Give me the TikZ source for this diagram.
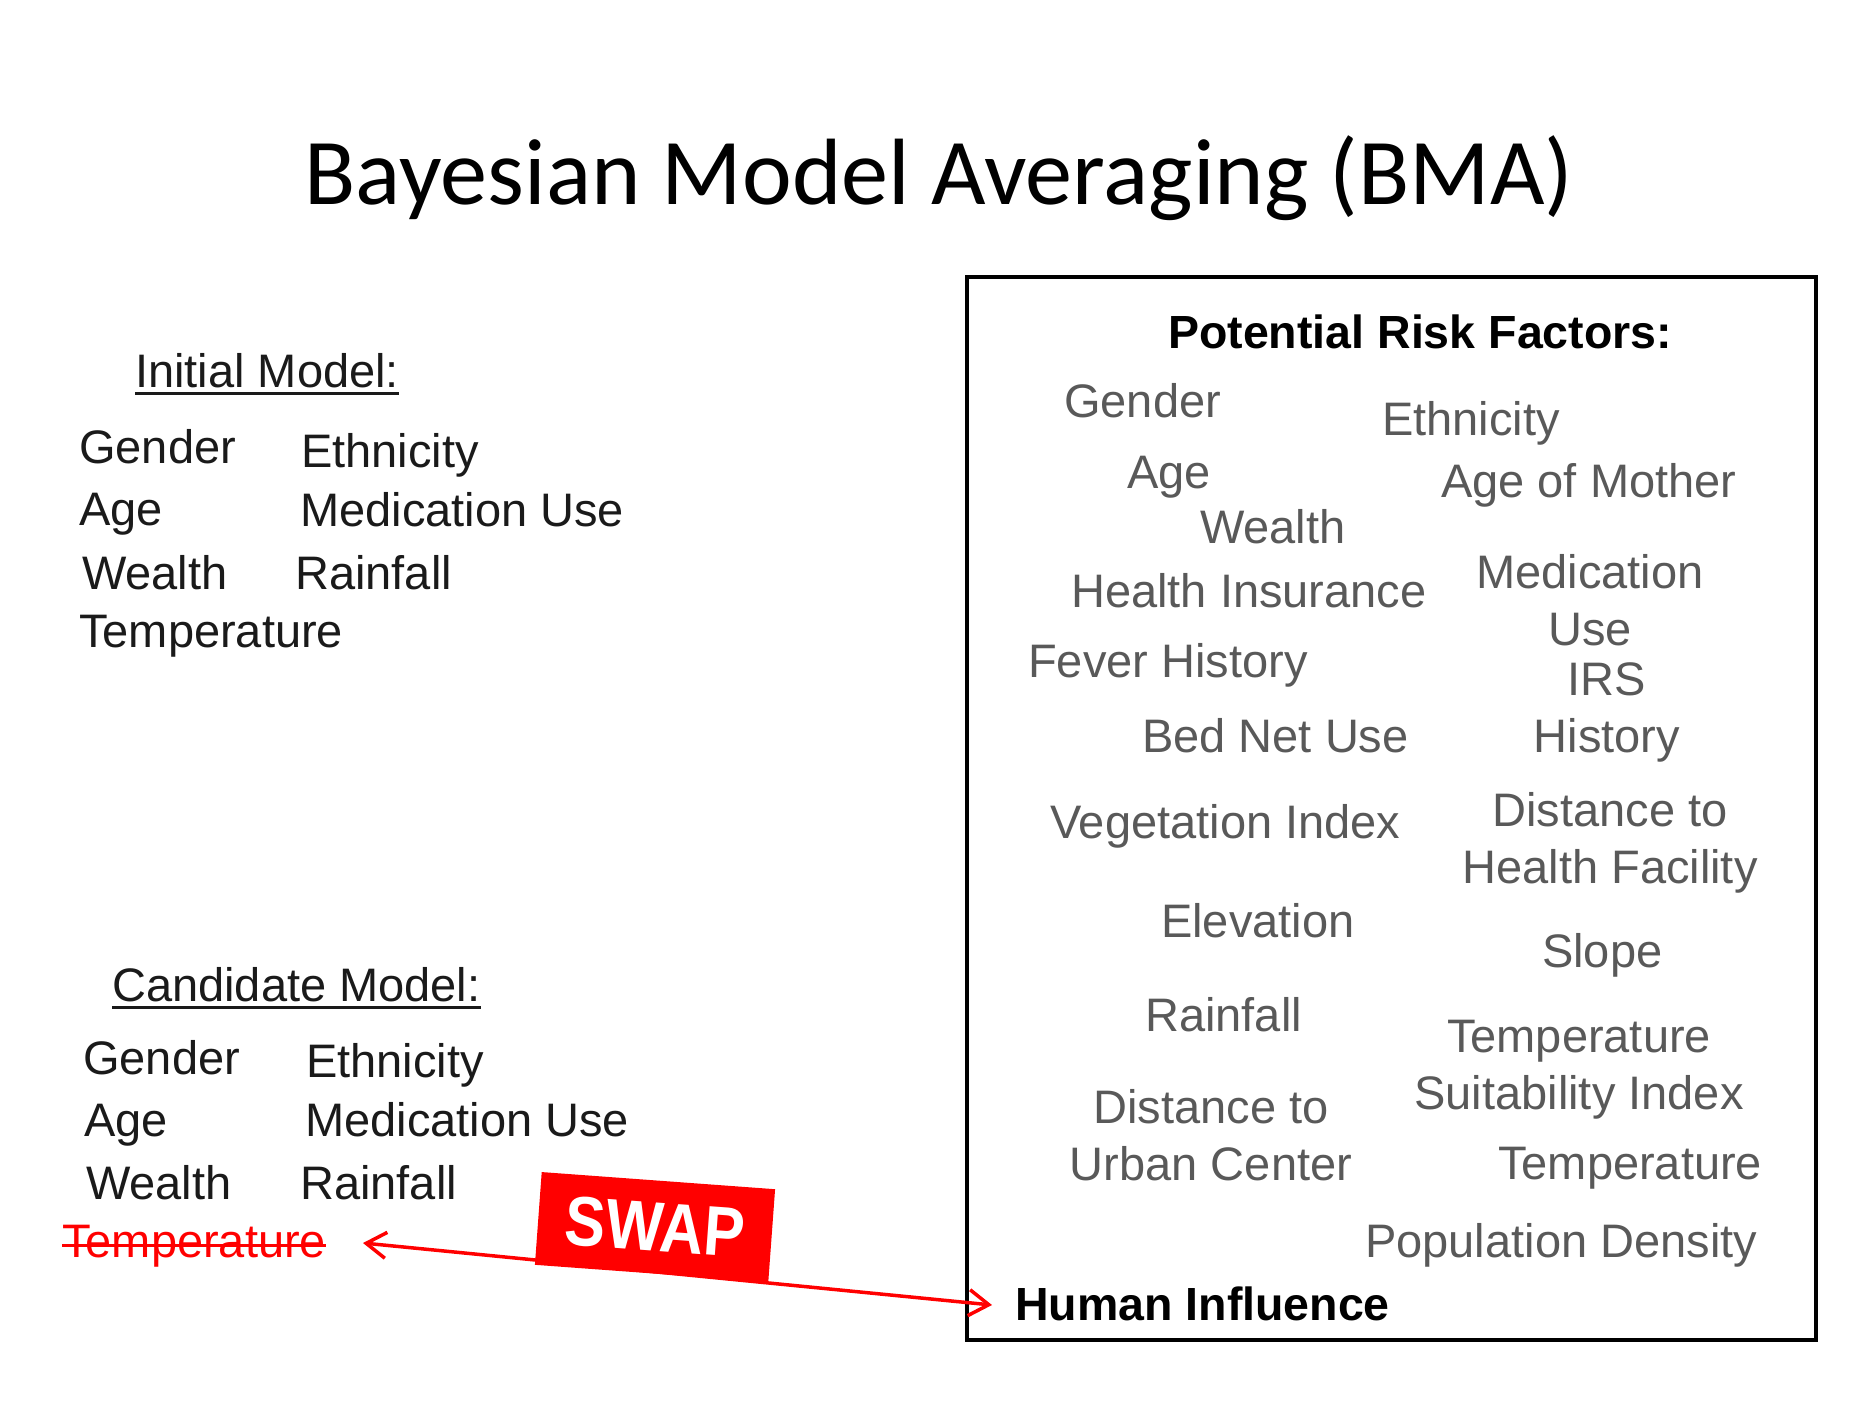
\documentclass[tikz,border=0pt]{standalone}
\usepackage{fontspec}
\setmainfont{Liberation Sans}
\newfontfamily\titlefont{Carlito}
\usetikzlibrary{arrows.meta}
\definecolor{txtdark}{HTML}{1A1A1A}
\definecolor{txtgray}{HTML}{595959}
\definecolor{swapred}{HTML}{FF0000}
\tikzset{
  lefttxt/.style={anchor=base west, inner sep=0pt, text=txtdark, font=\fontsize{47pt}{56.5pt}\selectfont},
  headtxt/.style={anchor=base west, inner sep=0pt, text=txtdark, font=\fontsize{47pt}{56.5pt}\selectfont},
  factor/.style={anchor=base west, inner sep=0pt, text=txtgray, font=\fontsize{47pt}{56.5pt}\selectfont},
  factorc/.style={anchor=base, inner sep=0pt, text=txtgray, align=center, font=\fontsize{47pt}{56.5pt}\selectfont},
  boldtxt/.style={anchor=base west, inner sep=0pt, text=black, font=\fontsize{46.5pt}{56.5pt}\selectfont\bfseries},
  uline/.style={line width=3pt, draw=txtdark},
  swaparrow/.style={draw=swapred, line width=3.5pt, {Straight Barb[length=20pt,width=26pt]}-{Straight Barb[length=20pt,width=26pt]}},
}
\begin{document}
\begin{tikzpicture}[x=1pt,y=-1pt]
\useasboundingbox[fill=white] (0,0) rectangle (1875,1406);

% title
\node[anchor=base, inner sep=0pt, font=\titlefont\fontsize{94.2pt}{100pt}\selectfont] (title) at (939,204) {Bayesian Model Averaging (BMA)};

% initial model
\node[headtxt] (init) at (135,387) {Initial Model:};
\draw[uline] ([yshift=-6pt]init.base west) -- ([yshift=-6pt]init.base east);
\node[lefttxt] (i1) at (79,463) {Gender};
\node[lefttxt] (i2) at (301,467) {Ethnicity};
\node[lefttxt] (i3) at (79,525) {Age};
\node[lefttxt] (i4) at (300,526) {Medication Use};
\node[lefttxt] (i5) at (82,589) {Wealth};
\node[lefttxt] (i6) at (295,589) {Rainfall};
\node[lefttxt] (i7) at (79,647) {Temperature};

% candidate model
\node[headtxt] (cand) at (112,1001) {Candidate Model:};
\draw[uline] ([yshift=-6pt]cand.base west) -- ([yshift=-6pt]cand.base east);
\node[lefttxt] (c1) at (83,1074) {Gender};
\node[lefttxt] (c2) at (306,1077) {Ethnicity};
\node[lefttxt] (c3) at (84,1136) {Age};
\node[lefttxt] (c4) at (305,1136) {Medication Use};
\node[lefttxt] (c5) at (86,1199) {Wealth};
\node[lefttxt] (c6) at (300,1199) {Rainfall};
\node[lefttxt, text=swapred] (c7) at (62,1257) {Temperature};
\draw[draw=swapred, line width=3pt] ([yshift=12pt]c7.base west) -- ([yshift=12pt]c7.base east);

% risk factor box
\draw[line width=3.5pt] (967,277) rectangle (1816,1340);
\node[boldtxt] (prf) at (1168,348) {Potential Risk Factors:};
\node[factor] (f1) at (1064,417) {Gender};
\node[factor] (f2) at (1382,435) {Ethnicity};
\node[factor] (f3) at (1127,488) {Age};
\node[factor] (f4) at (1441,497) {Age of Mother};
\node[factor] (f5) at (1200,543) {Wealth};
\node[factor] (f6) at (1071,607) {Health Insurance};
\node[factorc] (f7) at (1590,645) {Medication\\Use};
\node[factor] (f8) at (1028,677) {Fever History};
\node[factorc] (f9) at (1607,752) {IRS\\History};
\node[factor] (f10) at (1142,752) {Bed Net Use};
\node[factor] (f11) at (1050,838) {Vegetation Index};
\node[factorc] (f12) at (1610,883) {Distance to\\Health Facility};
\node[factor] (f13) at (1161,937) {Elevation};
\node[factor] (f14) at (1542,967) {Slope};
\node[factor] (f15) at (1145,1031) {Rainfall};
\node[factorc] (f16) at (1579,1109) {Temperature\\Suitability Index};
\node[factorc] (f17) at (1211,1180) {Distance to\\Urban Center};
\node[factor] (f18) at (1498,1179) {Temperature};
\node[factor] (f19) at (1365,1257) {Population Density};
\node[boldtxt] (hi) at (1015,1320) {Human Influence};

% swap arrow
\coordinate (swapL) at (363,1243);
\coordinate (swapR) at (992,1305);
\draw[swaparrow] (swapL) -- (swapR);
\node[fill=swapred, rotate=-4.2, minimum width=234pt, minimum height=93pt, inner sep=0pt,
      text=white, font=\fontsize{61pt}{70pt}\selectfont\bfseries] (swap) at (655,1227) {\scalebox{1}[1.15]{SWAP}};
\end{tikzpicture}
\end{document}
